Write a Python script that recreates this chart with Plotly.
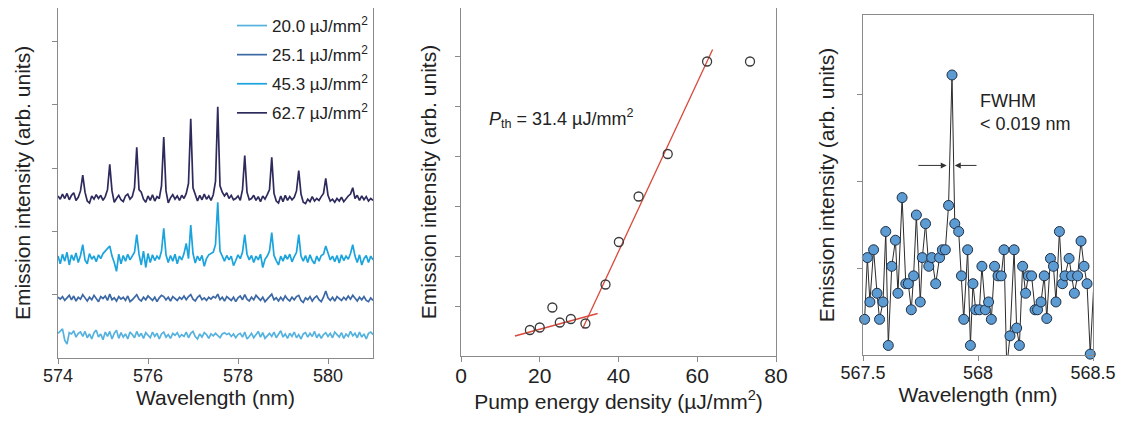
import plotly.graph_objects as go

# ---------------- Panel (a): lasing spectra ----------------
wl_start, wl_step, n_pts = 574.0, 0.05, 141
wavelength = [round(wl_start + wl_step * i, 2) for i in range(n_pts)]

series_names = ["20.0 µJ/mm<sup>2</sup>", "25.1 µJ/mm<sup>2</sup>",
                "45.3 µJ/mm<sup>2</sup>", "62.7 µJ/mm<sup>2</sup>"]

spec_20_0 = [0.03, 0.06, 0.10, -0.08, -0.14, 0.04, 0.02, 0.07, -0.03, 0.03,
             0.05, -0.02, 0.06, -0.04, 0.02, -0.06, 0.04, 0.08, -0.03, 0.02,
             -0.07, 0.05, -0.02, 0.06, -0.06, 0.03, 0.08, -0.05, 0.04, -0.03,
             0.02, -0.06, 0.05, 0.01, -0.04, 0.06, -0.02, 0.03, -0.05, 0.04,
             0.00, -0.04, 0.05, -0.02, 0.03, -0.06, 0.02, 0.05, -0.03, 0.01,
             -0.05, 0.03, 0.00, 0.04, -0.03, 0.01, -0.02, 0.05, -0.04, 0.03,
             0.06, -0.02, -0.06, 0.02, -0.03, 0.04, 0.01, -0.05, 0.02, -0.01,
             0.03, 0.00, -0.04, 0.02, 0.04, 0.01, 0.03, -0.02, 0.02, -0.04,
             0.01, 0.03, -0.03, 0.05, -0.06, -0.02, 0.03, -0.04, 0.02, 0.06,
             -0.03, 0.04, -0.05, 0.00, 0.03, -0.02, 0.05, -0.04, 0.02, 0.07,
             -0.03, 0.02, -0.05, 0.03, -0.02, 0.05, -0.04, 0.01, -0.06, 0.02,
             0.04, -0.03, 0.03, -0.02, 0.06, -0.04, 0.02, -0.05, 0.01, 0.04,
             -0.02, 0.03, -0.04, 0.05, 0.01, -0.03, 0.04, -0.05, 0.02, -0.02,
             0.06, -0.01, 0.03, -0.04, 0.05, -0.03, 0.02, -0.06, 0.03, 0.05,
             0.01]

spec_25_1 = [0.02, -0.01, 0.03, -0.03, 0.01, 0.05, -0.02, 0.04, -0.04, 0.02,
             -0.01, 0.06, 0.01, -0.04, 0.02, -0.02, 0.05, -0.01, -0.05, 0.03,
             0.00, 0.04, -0.03, 0.07, -0.02, 0.01, -0.04, 0.03, -0.01, 0.02,
             -0.03, 0.04, -0.05, -0.02, 0.03, 0.06, -0.01, -0.04, 0.02, -0.02,
             0.04, 0.01, -0.03, 0.02, -0.05, 0.01, 0.05, 0.03, -0.02, 0.02,
             -0.04, 0.03, 0.00, -0.03, 0.02, -0.01, 0.04, -0.02, 0.03, 0.06,
             -0.01, -0.04, 0.02, 0.05, -0.02, 0.01, -0.03, 0.02, -0.01, 0.03,
             0.01, 0.07, -0.02, 0.02, -0.04, 0.03, 0.00, -0.03, 0.02, -0.05,
             0.01, 0.04, -0.02, 0.06, -0.01, -0.04, 0.02, -0.02, 0.05, 0.01,
             -0.03, 0.02, -0.05, -0.01, 0.03, 0.07, -0.02, 0.01, -0.04, 0.02,
             -0.03, 0.04, -0.01, -0.04, 0.02, -0.02, 0.03, 0.05, -0.03, -0.06,
             0.01, -0.02, 0.03, -0.04, 0.01, 0.04, -0.02, -0.05, 0.02, 0.12,
             0.01, -0.03, 0.02, -0.04, 0.03, 0.00, -0.03, 0.02, -0.02, 0.04,
             -0.01, 0.05, 0.00, -0.04, 0.02, -0.02, 0.03, -0.03, -0.05, 0.01,
             -0.03]

spec_45_3 = [0.02, -0.10, 0.05, -0.06, 0.08, -0.12, 0.04, -0.05, 0.07, -0.08,
             0.03, 0.20, -0.04, -0.10, 0.06, -0.03, 0.02, -0.07, 0.04, -0.02,
             0.06, 0.10, 0.14, 0.18, 0.02, -0.08, -0.22, 0.05, -0.10, 0.03,
             -0.06, 0.05, -0.04, 0.02, 0.08, 0.36, 0.05, -0.12, 0.10, -0.16,
             0.06, -0.08, 0.04, -0.05, 0.02, -0.03, 0.10, 0.46, 0.04, -0.08,
             0.03, -0.06, 0.05, -0.10, 0.02, -0.04, 0.06, 0.22, -0.02, 0.51,
             0.06, -0.09, 0.02, -0.05, 0.03, -0.14, -0.02, 0.04, 0.06, 0.08,
             0.20, 0.87, 0.10, 0.02, -0.06, 0.03, -0.04, 0.02, -0.13, -0.05,
             0.04, -0.02, 0.08, 0.36, 0.05, -0.04, 0.03, -0.08, 0.02, -0.04,
             0.05, -0.16, -0.03, 0.02, 0.10, 0.39, 0.03, -0.05, -0.12, 0.02,
             -0.06, 0.04, -0.03, 0.05, -0.07, 0.01, 0.08, 0.36, 0.02, -0.06,
             0.03, -0.08, 0.04, -0.05, -0.10, 0.02, -0.06, 0.03, 0.05, 0.18,
             0.06, -0.04, 0.02, -0.07, 0.03, -0.09, 0.04, -0.05, 0.02, -0.03,
             0.06, 0.20, 0.02, -0.08, 0.04, -0.12, -0.02, 0.03, -0.08, 0.02,
             -0.04]

spec_62_7 = [0.02, -0.03, 0.05, -0.02, 0.06, -0.04, 0.03, 0.07, -0.05, 0.00,
             0.10, 0.35, 0.08, -0.06, -0.09, 0.02, -0.03, 0.04, -0.02, 0.03,
             -0.05, 0.01, 0.12, 0.52, 0.10, -0.08, -0.02, 0.03, -0.04, -0.07,
             0.02, 0.05, -0.03, 0.01, 0.15, 0.79, 0.12, 0.08, -0.03, -0.08,
             0.02, -0.05, 0.04, -0.06, 0.01, -0.02, 0.18, 0.95, 0.10, -0.09,
             -0.01, 0.04, -0.03, 0.02, -0.05, 0.03, -0.02, 0.06, 0.22, 1.24,
             0.15, 0.06, -0.06, 0.03, -0.04, 0.05, -0.03, 0.02, -0.05, 0.04,
             0.25, 1.43, 0.18, 0.08, 0.02, 0.07, -0.02, 0.03, -0.04, -0.02,
             0.02, -0.05, 0.12, 0.66, 0.08, -0.04, -0.02, 0.03, -0.05, 0.01,
             -0.07, 0.02, -0.03, 0.04, 0.12, 0.63, 0.06, -0.06, -0.09, 0.02,
             -0.07, 0.03, -0.05, 0.01, -0.04, 0.00, 0.10, 0.42, 0.05, -0.08,
             -0.10, -0.03, -0.07, 0.01, -0.06, -0.02, -0.05, 0.01, 0.06, 0.30,
             0.03, -0.06, -0.03, -0.08, -0.02, -0.06, 0.00, -0.07, -0.02, 0.02,
             0.05, 0.15, -0.02, 0.03, -0.05, 0.02, -0.04, 0.01, -0.06, -0.02,
             -0.05]

spectra = [spec_20_0, spec_25_1, spec_45_3, spec_62_7]
display_offsets = [0.36, 0.94, 1.59, 2.54]   # vertical stacking offsets
spec_colors = ["#55b2de", "#3c68a6", "#1aa3dd", "#2d2a5c"]

# ---------------- Panel (b): threshold ----------------
pump_density = [17.5, 20.0, 23.2, 25.1, 27.9, 31.6, 36.7, 40.1, 45.1, 52.5, 62.5, 73.4]
pump_intensity = [0.52, 0.57, 0.97, 0.67, 0.74, 0.65, 1.43, 2.28, 3.19, 4.04, 5.89, 5.89]
fit_low_x, fit_low_y = [13.7, 34.7], [0.40, 0.85]
fit_high_x, fit_high_y = [30.9, 63.9], [0.55, 6.13]

# ---------------- Panel (c): single mode linewidth ----------------
fine_wl = [567.507, 567.519, 567.530, 567.546, 567.561, 567.572, 567.587, 567.599,
           567.610, 567.625, 567.641, 567.652, 567.670, 567.686, 567.697, 567.710,
           567.720, 567.732, 567.749, 567.758, 567.772, 567.786, 567.799, 567.816,
           567.833, 567.845, 567.858, 567.872, 567.887, 567.899, 567.916, 567.928,
           567.938, 567.955, 567.967, 567.978, 567.990, 568.006, 568.017, 568.032,
           568.046, 568.058, 568.072, 568.087, 568.101, 568.113, 568.125, 568.139,
           568.157, 568.168, 568.180, 568.194, 568.207, 568.219, 568.233, 568.248,
           568.259, 568.274, 568.288, 568.299, 568.315, 568.328, 568.339, 568.354,
           568.367, 568.378, 568.396, 568.407, 568.419, 568.433, 568.448, 568.461,
           568.474, 568.488, 568.505]
fine_int = [0.41, 1.12, 0.61, 1.21, 0.71, 0.41, 0.61, 1.42, 0.11, 1.02, 1.32, 0.71,
            1.81, 0.82, 0.82, 0.52, 0.91, 1.61, 0.61, 1.12, 1.51, 1.02, 1.12, 0.82,
            1.12, 1.21, 1.21, 1.72, 3.22, 1.51, 1.42, 0.91, 0.41, 1.21, 0.11, 0.82,
            0.52, 0.52, 1.02, 0.52, 0.61, 0.41, 1.02, 0.91, 0.91, 1.21, -0.15, 0.22,
            1.21, 0.31, 0.11, 1.02, 0.71, 0.91, 0.91, 0.52, 0.52, 0.61, 0.91, 0.42,
            1.11, 1.02, 0.61, 1.42, 0.82, 0.91, 1.11, 0.91, 0.71, 0.91, 1.31, 1.02,
            0.82, 0.01, 0.90]
fwhm_left = (567.734, 567.864)
fwhm_right = (568.000, 567.899)
fwhm_level = 2.18

# axis ranges / ticks
x1_range, x1_ticks = [574, 581], [574, 576, 578, 580]
y1_range, y1_ticks = [0, 5.53], [1, 2, 3, 4, 5]
x2_range, x2_ticks = [0, 80], [0, 20, 40, 60, 80]
y2_range, y2_ticks = [0, 6.96], [1, 2, 3, 4, 5, 6]
x3_range, x3_ticks, x3_text = [567.5, 568.5], [567.5, 568, 568.5], ["567.5", "568", "568.5"]
y3_range, y3_ticks = [0, 3.91], [1, 2, 3]

# page body has an 8 px margin: figure occupies the window minus it
PAGE_PAD = 8
W, H = 1126 - 2 * PAGE_PAD, 421 - 2 * PAGE_PAD
FONT = "Liberation Sans, Arial, sans-serif"
FRAME = "#8a8a8a"

fig = go.Figure()

for name, vals, off, col in zip(series_names, spectra, display_offsets, spec_colors):
    fig.add_trace(go.Scatter(x=wavelength, y=[v + off for v in vals], mode="lines",
                             name=name, legendgroup=name, line=dict(color=col, width=1.7),
                             xaxis="x", yaxis="y"))

fig.add_trace(go.Scatter(x=fit_low_x, y=fit_low_y, mode="lines", showlegend=False,
                         line=dict(color="#d9493c", width=1.3), xaxis="x2", yaxis="y2"))
fig.add_trace(go.Scatter(x=fit_high_x, y=fit_high_y, mode="lines", showlegend=False,
                         line=dict(color="#d9493c", width=1.3), xaxis="x2", yaxis="y2"))
fig.add_trace(go.Scatter(x=pump_density, y=pump_intensity, mode="markers", showlegend=False,
                         marker=dict(symbol="circle-open", size=9, color="#3a3a3a",
                                     line=dict(width=1.3, color="#3a3a3a")),
                         xaxis="x2", yaxis="y2"))

fig.add_trace(go.Scatter(x=fine_wl, y=fine_int, mode="lines", showlegend=False,
                         line=dict(color="#2b2b2b", width=1), xaxis="x3", yaxis="y3"))
in_range = [x3_range[0] <= x <= x3_range[1] and y >= y3_range[0] for x, y in zip(fine_wl, fine_int)]
fig.add_trace(go.Scatter(x=[x for x, k in zip(fine_wl, in_range) if k],
                         y=[y for y, k in zip(fine_int, in_range) if k],
                         mode="markers", showlegend=False, cliponaxis=False,
                         marker=dict(size=10, color="#5d9bd3", line=dict(color="#1f2f45", width=1)),
                         xaxis="x3", yaxis="y3"))


def px_x(a, b):
    return [(a - PAGE_PAD) / W, (b - PAGE_PAD) / W]


def px_y(top, bottom):
    return [max(0.0, 1 - (bottom - PAGE_PAD) / H), min(1.0, 1 - (top - PAGE_PAD) / H)]


common = dict(showline=True, linecolor=FRAME, linewidth=1, mirror=True, ticks="outside",
              ticklen=5, tickcolor=FRAME, tickwidth=1, showgrid=False, zeroline=False,
              fixedrange=True, automargin=False)

ytitle = "Emission intensity (arb. units)"
fig.update_layout(
    template="none",
    width=W, height=H, margin=dict(l=0, r=0, t=0, b=0, autoexpand=False),
    paper_bgcolor="white", plot_bgcolor="white",
    font=dict(family=FONT, color="#222222", size=18),
    xaxis=dict(domain=px_x(58, 373), range=x1_range, tickvals=x1_ticks, anchor="y",
               tickfont=dict(size=18), ticklabelstandoff=-4,
               title=dict(text="Wavelength (nm)", font=dict(size=21), standoff=0),
               **common),
    yaxis=dict(domain=px_y(8, 358), range=y1_range, tickvals=y1_ticks, showticklabels=False,
               anchor="x", title=dict(text=ytitle, font=dict(size=21), standoff=15), **common),
    xaxis2=dict(domain=px_x(461, 776), range=x2_range, tickvals=x2_ticks, anchor="y2",
                tickfont=dict(size=21), ticklabelstandoff=-4,
                title=dict(text="Pump energy density (µJ/mm<sup>2</sup>)", font=dict(size=21),
                           standoff=5), **common),
    yaxis2=dict(domain=px_y(8, 356), range=y2_range, tickvals=y2_ticks, showticklabels=False,
                anchor="x2", title=dict(text=ytitle, font=dict(size=21), standoff=12), **common),
    xaxis3=dict(domain=px_x(863, 1093), range=x3_range, tickvals=x3_ticks, ticktext=x3_text,
                anchor="y3", tickfont=dict(size=18), ticklabelstandoff=-4,
                title=dict(text="Wavelength (nm)", font=dict(size=21), standoff=0),
                **common),
    yaxis3=dict(domain=px_y(15, 355), range=y3_range, tickvals=y3_ticks, showticklabels=False,
                anchor="x3", title=dict(text=ytitle, font=dict(size=21), standoff=16), **common),
    legend=dict(x=(232 - PAGE_PAD) / W, y=1.0, xanchor="left", yanchor="top",
                bgcolor="rgba(0,0,0,0)", font=dict(size=17), tracegroupgap=4,
                itemwidth=30),
    showlegend=True,
)

fig.add_annotation(x=6.6, y=4.76, xref="x2", yref="y2", xanchor="left", showarrow=False,
                   text="<i>P</i><sub>th</sub> = 31.4 µJ/mm<sup>2</sup>", font=dict(size=18))

fig.add_annotation(x=fwhm_right[0], y=2.79, xref="x3", yref="y3", xanchor="left", align="left",
                   showarrow=False, text="FWHM<br>&lt; 0.019 nm", font=dict(size=18))
for tail, head in (fwhm_left, fwhm_right):
    fig.add_annotation(x=head, y=fwhm_level, ax=tail, ay=fwhm_level, xref="x3", yref="y3",
                       axref="x3", ayref="y3", text="", showarrow=True, arrowhead=2,
                       arrowsize=1.2, arrowwidth=1, arrowcolor="#333333")

fig.write_html("out.html")
